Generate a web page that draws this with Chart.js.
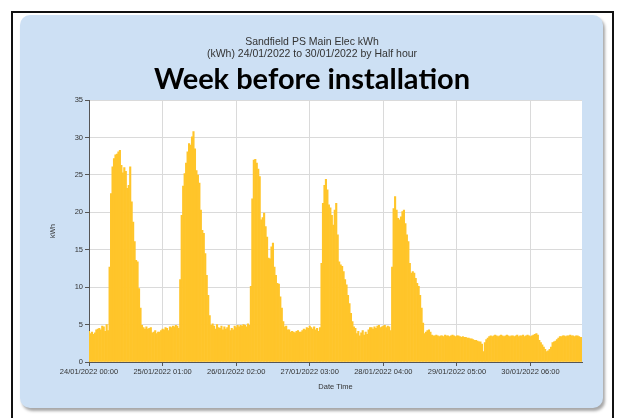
<!DOCTYPE html>
<html>
<head>
<meta charset="utf-8">
<script src="https://cdn.jsdelivr.net/npm/chart.js@4.4.0/dist/chart.umd.min.js"></script>
<style>
  html, body { margin: 0; padding: 0; background: #fff; }
  body { width: 620px; height: 418px; position: relative; overflow: hidden; }
  .frame {
    position: absolute; left: 11px; top: 11px; width: 599px; height: 420px;
    border: 2px solid #111;
  }
  .panel {
    position: absolute; left: 20px; top: 15px; width: 583px; height: 393px;
    background: #cde0f4; border-radius: 10px;
    box-shadow: 2px 3px 3px rgba(0,0,0,0.35);
  }
  .chart-box { position: absolute; left: 0; top: 0; width: 583px; height: 393px; }
</style>
</head>
<body>
<div class="frame"></div>
<div class="panel">
  <div class="chart-box"><canvas id="elecBar"></canvas></div>
</div>
<script>
// Half-hourly kWh, one array per day (48 readings, 00:00 .. 23:30)
const mon24 = [4.1, 3.8, 4.0, 3.7, 3.9, 4.3, 4.4, 4.5, 4.3, 4.8, 4.7, 4.1, 5.0, 4.2,
  12.7, 22.5, 26.1, 27.2, 27.7, 27.8, 28.1, 28.3, 26.3, 25.3, 26.0, 25.5, 23.2, 23.6, 26.1, 21.4, 18.7, 16.1, 13.6, 13.4, 9.8, 7.2, 4.9,
  4.6, 4.4, 4.7, 4.4, 4.5, 4.6, 3.9, 4.0, 4.2, 3.8, 4.0];
const tue25 = [4.0, 4.2, 4.4, 4.3, 4.6, 4.5, 4.2, 4.7, 4.6, 4.8, 4.7, 4.9, 4.8, 4.5,
  11.0, 19.6, 23.5, 25.2, 26.6, 28.1, 29.2, 29.0, 30.1, 30.8, 28.5, 25.6, 25.0, 23.9, 20.3, 17.6, 17.2, 14.5, 11.6, 8.9, 6.2, 4.9, 5.1,
  4.8, 4.4, 5.0, 4.6, 4.5, 4.8, 4.3, 4.7, 4.4, 4.6, 4.9];
const wed26 = [4.2, 4.5, 4.3, 4.8, 4.6, 4.9, 4.7, 4.9, 4.8, 5.0, 4.9, 4.7, 5.1, 4.9,
  10.1, 21.8, 27.0, 27.1, 26.6, 25.8, 24.8, 19.0, 19.3, 19.9, 18.1, 16.7, 13.9, 13.8, 15.4, 15.9, 12.7, 11.6, 10.5, 10.4, 8.7, 7.2, 5.4, 4.7, 4.8,
  4.3, 4.3, 4.0, 4.1, 4.0, 3.9, 4.1, 4.2, 4.0];
const thu27 = [4.0, 4.2, 4.4, 4.3, 4.6, 4.5, 4.8, 4.6, 4.4, 4.7, 4.3, 4.5, 4.1, 4.6,
  13.2, 21.2, 23.6, 24.4, 23.0, 21.0, 20.6, 19.6, 18.3, 20.3, 21.2, 17.0, 13.4, 13.0, 12.8, 12.1, 11.0, 10.3, 8.9, 7.8, 6.5, 5.4, 4.7, 4.5,
  3.8, 4.1, 3.5, 3.9, 4.2, 3.6, 4.0, 3.7, 4.3, 4.6];
const fri28 = [4.6, 4.4, 4.7, 4.5, 4.8, 4.9, 4.6, 4.7, 4.8, 4.9, 4.6, 4.8, 4.7, 4.2,
  12.7, 20.5, 22.1, 20.3, 19.2, 19.0, 19.4, 20.1, 20.3, 18.5, 17.0, 16.1, 13.2, 11.9, 12.1, 11.9, 11.2, 10.5, 10.1, 8.9, 7.2, 5.2, 3.8, 4.0, 4.2, 4.3, 4.0,
  3.6, 3.5, 3.5, 3.6, 3.5, 3.4, 3.5];
const sat29 = [3.5, 3.4, 3.6, 3.5, 3.5, 3.4, 3.5, 3.6, 3.5, 3.4, 3.5, 3.5, 3.4, 3.3, 3.4, 3.3, 3.3, 3.2, 3.2,
  3.1, 3.1, 3.0, 2.9, 2.9, 2.8, 2.7, 2.7, 2.4, 1.4, 2.6, 3.0, 3.2,
  3.4, 3.5, 3.4, 3.5, 3.6, 3.5, 3.4, 3.5, 3.6, 3.5, 3.4, 3.5, 3.6, 3.5, 3.4, 3.5];
const sun30 = [3.5, 3.4, 3.5, 3.6, 3.4, 3.5, 3.5, 3.6, 3.4, 3.5, 3.6, 3.5, 3.4, 3.5, 3.6, 3.7, 3.8, 3.6,
  2.9, 2.6, 2.3, 2.0, 1.7, 1.4, 1.5, 1.7, 2.0, 2.6, 2.7, 2.8, 3.0, 3.2, 3.4,
  3.4, 3.5, 3.5, 3.4, 3.5, 3.5, 3.6, 3.5, 3.5, 3.4, 3.5, 3.5, 3.4, 3.3, 3.3];

const days = ['24', '25', '26', '27', '28', '29', '30'];
// every 50th half hour gets a label on the axis
const tickLabels = ['24/01/2022 00:00', '25/01/2022 01:00', '26/01/2022 02:00', '27/01/2022 03:00',
  '28/01/2022 04:00', '29/01/2022 05:00', '30/01/2022 06:00'];
const tickEvery = 50;

const titleLines = ['Sandfield PS Main Elec kWh', '(kWh) 24/01/2022 to 30/01/2022 by Half hour'];
const bigTitle = 'Week before installation';

document.addEventListener("DOMContentLoaded", () => {
  Chart.defaults.font.family = "'Liberation Sans', Arial, sans-serif";
  Chart.defaults.color = '#333';

  // --- 1. build the half-hour categories ---
  const kwh = [].concat(mon24, tue25, wed26, thu27, fri28, sat29, sun30);
  const labels = [];
  days.forEach(d => {
    for (let h = 0; h < 48; h++) {
      const hh = String(Math.floor(h / 2)).padStart(2, '0');
      labels.push(`${d}/01/2022 ${hh}:${h % 2 ? '30' : '00'}`);
    }
  });

  // white plot area behind the bars
  const plotBg = {
    id: 'plotBg',
    beforeDraw(chart) {
      const a = chart.chartArea;
      const ctx = chart.ctx;
      ctx.save();
      ctx.fillStyle = '#fff';
      ctx.fillRect(a.left, a.top, a.right - a.left, a.bottom - a.top);
      ctx.restore();
    }
  };

  // --- 2. chart ---
  new Chart(document.getElementById('elecBar').getContext('2d'), {
    type: 'bar',
    data: {
      labels: labels,
      datasets: [{
        label: 'kWh',
        data: kwh,
        backgroundColor: '#ffc52a',
        borderWidth: 0,
        barPercentage: 1,
        categoryPercentage: 1
      }]
    },
    options: {
      responsive: true,
      maintainAspectRatio: false,
      animation: false,
      layout: { padding: { left: 22, right: 21, top: 0, bottom: 17 } },
      plugins: {
        legend: { display: false },
        tooltip: { enabled: false },
        title: {
          display: true,
          text: titleLines,
          font: { size: 10.5, weight: 'normal', lineHeight: 1.15 },
          color: '#333',
          padding: { top: 21, bottom: 4 }
        },
        subtitle: {
          display: true,
          text: bigTitle,
          font: { family: 'Lato', size: 29, weight: 'bold', lineHeight: 1.0 },
          color: '#000',
          padding: { top: 1, bottom: 6 }
        }
      },
      scales: {
        x: {
          offset: false,
          grid: {
            offset: false,
            color: '#dadada',
            borderDash: [2, 2],
            tickLength: 4,
            tickColor: '#555',
            tickBorderDash: []
          },
          border: { display: true, color: '#555' },
          ticks: {
            autoSkip: false,
            maxRotation: 0,
            minRotation: 0,
            padding: 1,
            font: { size: 7.5 },
            callback: (val, idx) => idx % tickEvery === 0 ? tickLabels[idx / tickEvery] : null
          },
          title: { display: true, text: 'Date Time', font: { size: 7.5 }, padding: { top: 5, bottom: 0 } }
        },
        y: {
          min: 0,
          max: 35,
          afterFit: (scale) => { scale.width = 47; },
          grid: {
            color: '#dadada',
            borderDash: [2, 2],
            tickLength: 4,
            tickColor: '#555',
            tickBorderDash: []
          },
          border: { display: true, color: '#555' },
          ticks: { stepSize: 5, padding: 2, font: { size: 7.5 } },
          title: { display: true, text: 'kWh', font: { size: 7 }, padding: { top: 7, bottom: 5 } }
        }
      }
    },
    plugins: [plotBg]
  });
});
</script>
</body>
</html>
